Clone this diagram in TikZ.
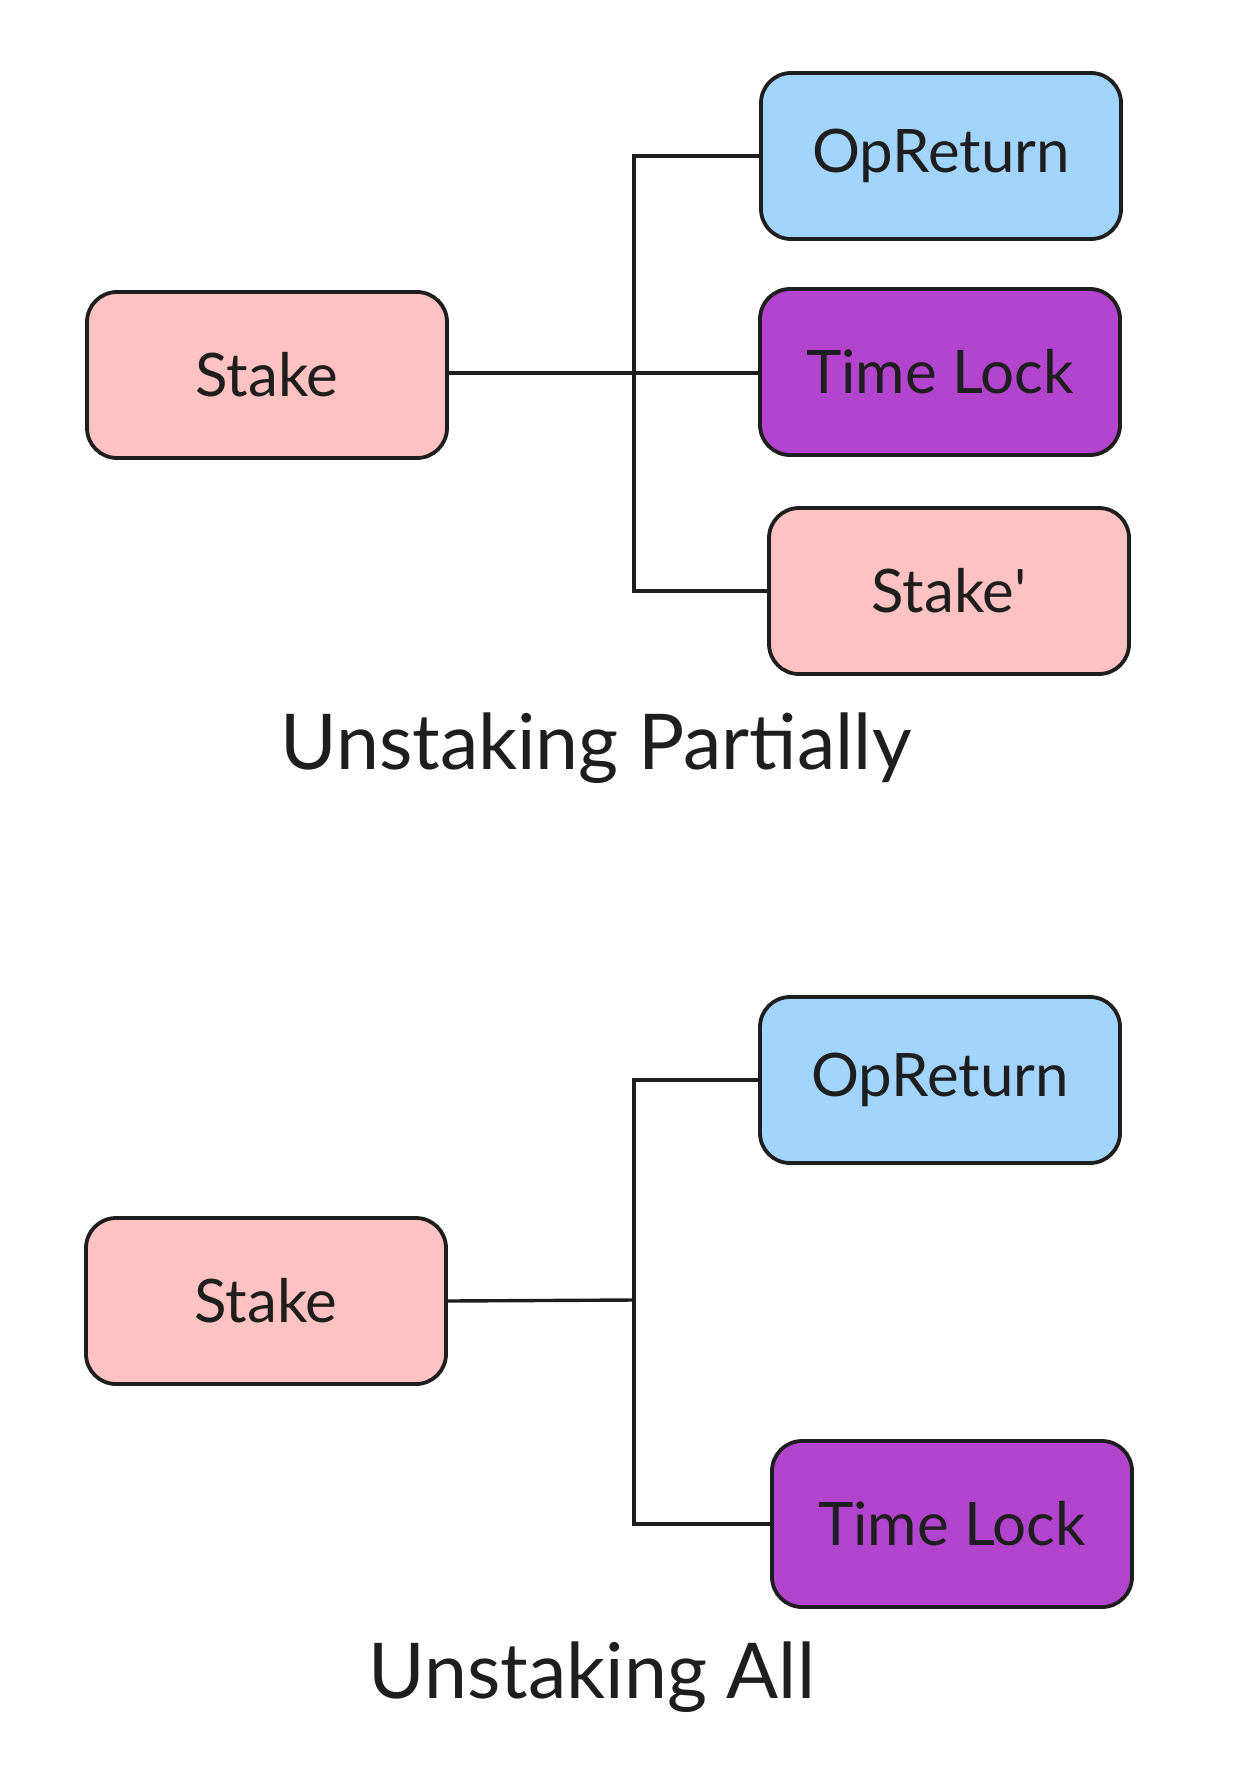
\documentclass[tikz,border=0pt]{standalone}
\usepackage{fontspec}
\setmainfont{Lato}
\usetikzlibrary{positioning}
\definecolor{opblue}{HTML}{A2D5FD}
\definecolor{stakepink}{HTML}{FFC2C2}
\definecolor{lockpurple}{HTML}{B344CE}
\definecolor{ink}{HTML}{1E1E1E}
\tikzset{
    box/.style={draw=ink, line width=1.9pt, rounded corners=15pt,
        minimum width=180pt, minimum height=83pt, font=\fontsize{30}{34}\selectfont, text=ink},
    link/.style={draw=ink, line width=1.7pt},
    caption/.style={font=\fontsize{38.5}{44}\selectfont, text=ink}
}
\begin{document}
\begin{tikzpicture}[x=0.5pt, y=-0.5pt]
    \useasboundingbox (0, 0) rectangle (1254, 1776);
    % unstaking partially
    \node[box, fill=stakepink] (stakeA) at (267, 375) {Stake};
    \node[box, fill=opblue] (opA) at (941, 156) {OpReturn};
    \node[box, fill=lockpurple] (lockA) at (940, 372) {Time Lock};
    \node[box, fill=stakepink] (restA) at (949, 591) {Stake\textquotesingle};
    \node[caption] (titleA) at (596, 748) {Unstaking Partially};
    \coordinate (busA) at (634, 373);
    \draw[link] (stakeA.east |- busA) -- (lockA.west |- busA);
    \draw[link] (opA.west) -| (busA) |- (restA.west);
    % unstaking all
    \node[box, fill=opblue] (opB) at (940, 1080) {OpReturn};
    \node[box, fill=stakepink] (stakeB) at (266, 1301) {Stake};
    \node[box, fill=lockpurple] (lockB) at (952, 1524) {Time Lock};
    \node[caption] (titleB) at (592, 1677) {Unstaking All};
    \coordinate (busB) at (634, 1300);
    \draw[link] (stakeB.east) -- (busB);
    \draw[link] (opB.west) -| (busB) |- (lockB.west);
\end{tikzpicture}
\end{document}
